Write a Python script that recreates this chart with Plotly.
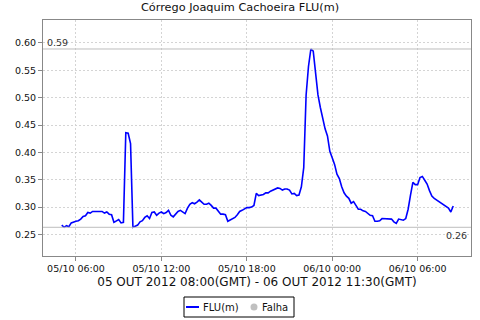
import pandas as pd
import plotly.graph_objects as go

title_text = "Córrego Joaquim Cachoeira FLU(m)"
x_title = "05 OUT 2012 08:00(GMT) - 06 OUT 2012 11:30(GMT)"
series_name = "FLU(m)"
fail_name = "Falha"

start_time = "2012-10-05 05:00"
step = "10min"

flu_values = [
    0.267, 0.263, 0.266, 0.264, 0.271, 0.273, 0.274, 0.275, 0.278, 0.283,
    0.284, 0.290, 0.289, 0.292, 0.292, 0.292, 0.292, 0.292, 0.289, 0.291,
    0.287, 0.286, 0.272, 0.275, 0.277, 0.271, 0.272, 0.436, 0.435, 0.416,
    0.263, 0.265, 0.267, 0.273, 0.275, 0.281, 0.284, 0.279, 0.290, 0.291,
    0.285, 0.289, 0.291, 0.288, 0.290, 0.294, 0.285, 0.282, 0.288, 0.292,
    0.294, 0.291, 0.288, 0.298, 0.305, 0.308, 0.306, 0.309, 0.313, 0.309,
    0.305, 0.305, 0.307, 0.303, 0.298, 0.298, 0.292, 0.287, 0.287, 0.286,
    0.274, 0.276, 0.279, 0.281, 0.286, 0.292, 0.294, 0.296, 0.299, 0.299,
    0.300, 0.303, 0.325, 0.321, 0.322, 0.323, 0.326, 0.326, 0.329, 0.331,
    0.334, 0.335, 0.334, 0.331, 0.333, 0.333, 0.331, 0.324, 0.325, 0.321,
    0.322, 0.337, 0.372, 0.505, 0.557, 0.589, 0.585, 0.545, 0.505, 0.482,
    0.462, 0.443, 0.430, 0.402, 0.390, 0.378, 0.360, 0.352, 0.337, 0.326,
    0.320, 0.316, 0.307, 0.310, 0.303, 0.296, 0.296, 0.293, 0.292, 0.288,
    0.285, 0.284, 0.274, 0.274, 0.275, 0.279, 0.279, 0.278, 0.278, 0.278,
    0.273, 0.270, 0.278, 0.277, 0.276, 0.279, 0.296, 0.322, 0.345, 0.341,
    0.341, 0.354, 0.356, 0.349, 0.342, 0.330, 0.320, 0.316, 0.313, 0.310,
    0.307, 0.305, 0.302, 0.298, 0.291, 0.302,
]
# no failure records in this period
fail_times = [None]
fail_values = [None]

times = pd.date_range(start=start_time, periods=len(flu_values), freq=step)
vmax = max(flu_values)
vmin = min(flu_values)

font = "DejaVu Sans"
line_color = "#0000ff"
fail_color = "#c0c0c0"

fig = go.Figure()
fig.add_trace(go.Scatter(x=times, y=flu_values, mode="lines", name=series_name,
                         line=dict(color=line_color, width=1.6), showlegend=False))
fig.add_trace(go.Scatter(x=fail_times, y=fail_values, mode="markers", name=fail_name,
                         marker=dict(color=fail_color, size=8), showlegend=False))

fig.add_hline(y=vmax, line=dict(color="#bdbdbd", width=1))
fig.add_hline(y=vmin, line=dict(color="#bdbdbd", width=1))
fig.add_annotation(x=0, xref="paper", y=vmax, yref="y", text=f"{vmax:.2f}",
                   showarrow=False, xanchor="left", yanchor="bottom", xshift=2, yshift=-1,
                   font=dict(family=font, size=9.5, color="#333333"))
fig.add_annotation(x=1, xref="paper", y=vmin, yref="y", text=f"{vmin:.2f}",
                   showarrow=False, xanchor="right", yanchor="top", xshift=-2, yshift=-1,
                   font=dict(family=font, size=9.5, color="#333333"))

# legend box (drawn as decoration in paper coordinates, below the plot)
plot_l, plot_w, plot_b, plot_h = 43, 428, 256, 236


def px(xp):
    return (xp - plot_l) / plot_w


def py(yp):
    return (plot_b - yp) / plot_h


fig.add_shape(type="rect", xref="paper", yref="paper",
              x0=px(184), x1=px(294), y0=py(317), y1=py(297),
              line=dict(color="#000000", width=1), fillcolor="white")
fig.add_shape(type="line", xref="paper", yref="paper",
              x0=px(186), x1=px(199), y0=py(307), y1=py(307),
              line=dict(color=line_color, width=2))
fig.add_shape(type="circle", xref="paper", yref="paper",
              x0=px(250.5), x1=px(257.5), y0=py(310.5), y1=py(303.5),
              line=dict(color=fail_color, width=0), fillcolor=fail_color)
fig.add_annotation(x=px(201), xref="paper", y=py(307), yref="paper", text=series_name,
                   showarrow=False, xanchor="left", yanchor="middle",
                   font=dict(family=font, size=10, color="#111111"))
fig.add_annotation(x=px(259.5), xref="paper", y=py(307), yref="paper", text=fail_name,
                   showarrow=False, xanchor="left", yanchor="middle",
                   font=dict(family=font, size=10, color="#111111"))

fig.update_layout(
    width=480, height=320,
    margin=dict(l=43, r=9, t=20, b=64, autoexpand=False),
    paper_bgcolor="white", plot_bgcolor="white",
    title=dict(text=title_text, x=0.5, xanchor="center", y=1.0, yanchor="top",
               pad=dict(t=3, b=0, l=0, r=0),
               font=dict(family=font, size=11.3, color="#111111")),
    font=dict(family=font, color="#222222"),
    showlegend=False,
)
fig.update_xaxes(
    range=["2012-10-05 03:41", "2012-10-06 09:45"],
    tickformat="%d/%m %H:%M", dtick=6 * 3600 * 1000, tick0="2012-10-05 00:00",
    showgrid=True, gridcolor="#d4d4d4", griddash="2px,2px", gridwidth=1,
    ticks="outside", ticklen=4, tickcolor="#888888",
    showline=True, linecolor="#888888", linewidth=1, mirror=True,
    tickfont=dict(family=font, size=9.5, color="#111111"),
    title=dict(text=x_title, font=dict(family=font, size=12, color="#111111"), standoff=4),
    zeroline=False, automargin=False,
)
fig.update_yaxes(
    range=[0.2105, 0.642], dtick=0.05, tick0=0, tickformat=".2f",
    showgrid=True, gridcolor="#d4d4d4", griddash="2px,2px", gridwidth=1,
    ticks="outside", ticklen=4, tickcolor="#888888",
    showline=True, linecolor="#888888", linewidth=1, mirror=True,
    tickfont=dict(family=font, size=9.5, color="#111111"),
    zeroline=False, automargin=False,
)
fig.write_html("out.html", config={"displayModeBar": False},
               post_script="document.body.style.margin='0';")
